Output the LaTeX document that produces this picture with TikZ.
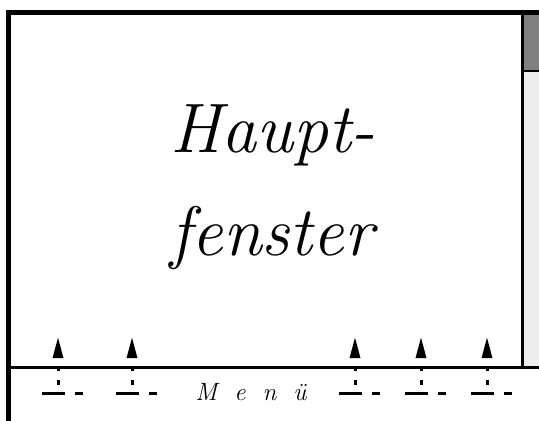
\documentclass[tikz,border=0pt]{standalone}
\usetikzlibrary{arrows.meta}
\tikzset{
  frame/.style={line width=5pt, line cap=rect},
  sep/.style={line width=3pt},
  upar/.style={line width=3pt, dash pattern=on 5pt off 9pt, -{Triangle[length=21pt,width=10pt]}},
  menudash/.style={line width=3pt, dash pattern=on 23pt off 10pt on 8pt off 100pt},
  bigtext/.style={font=\fontsize{70}{80}\selectfont\itshape, inner sep=0pt, anchor=base},
  menutext/.style={font=\fontsize{25}{29}\selectfont\itshape, inner sep=0pt, anchor=base}
}
\begin{document}
\begin{tikzpicture}[x=1pt,y=-1pt]
\useasboundingbox (0,0) rectangle (539,421);
\fill[white] (0,0) rectangle (539,421);
% scrollbar
\fill[black!50] (523,14) rectangle (539,71);
\fill[black!7] (523,71) rectangle (539,366);
\draw[line width=2pt] (523,71) -- (539,71);
\draw[line width=3pt] (522.5,12) -- (522.5,366);
% frame
\draw[frame] (8.5,421) -- (8.5,12.5) -- (539,12.5);
\draw[sep] (10,367.5) -- (539,367.5);
% title
\node[bigtext] (h) at (273,152) {Haupt-};
\node[bigtext] (f) at (272,255) {fenster};
\node[menutext] (m) at (251,400) {M\kern17pt e\kern17pt n\kern17pt ü};
% menu markers
\foreach \i/\x in {1/58,2/132,3/355,4/421,5/487}{
  \coordinate (s\i) at (\x,385);
  \coordinate (t\i) at (\x,337);
  \coordinate (l\i) at (\x-16,393);
  \coordinate (r\i) at (\x+25,393);
  \draw[upar] (s\i) -- (t\i);
  \draw[menudash] (l\i) -- (r\i);
}
\end{tikzpicture}
\end{document}
